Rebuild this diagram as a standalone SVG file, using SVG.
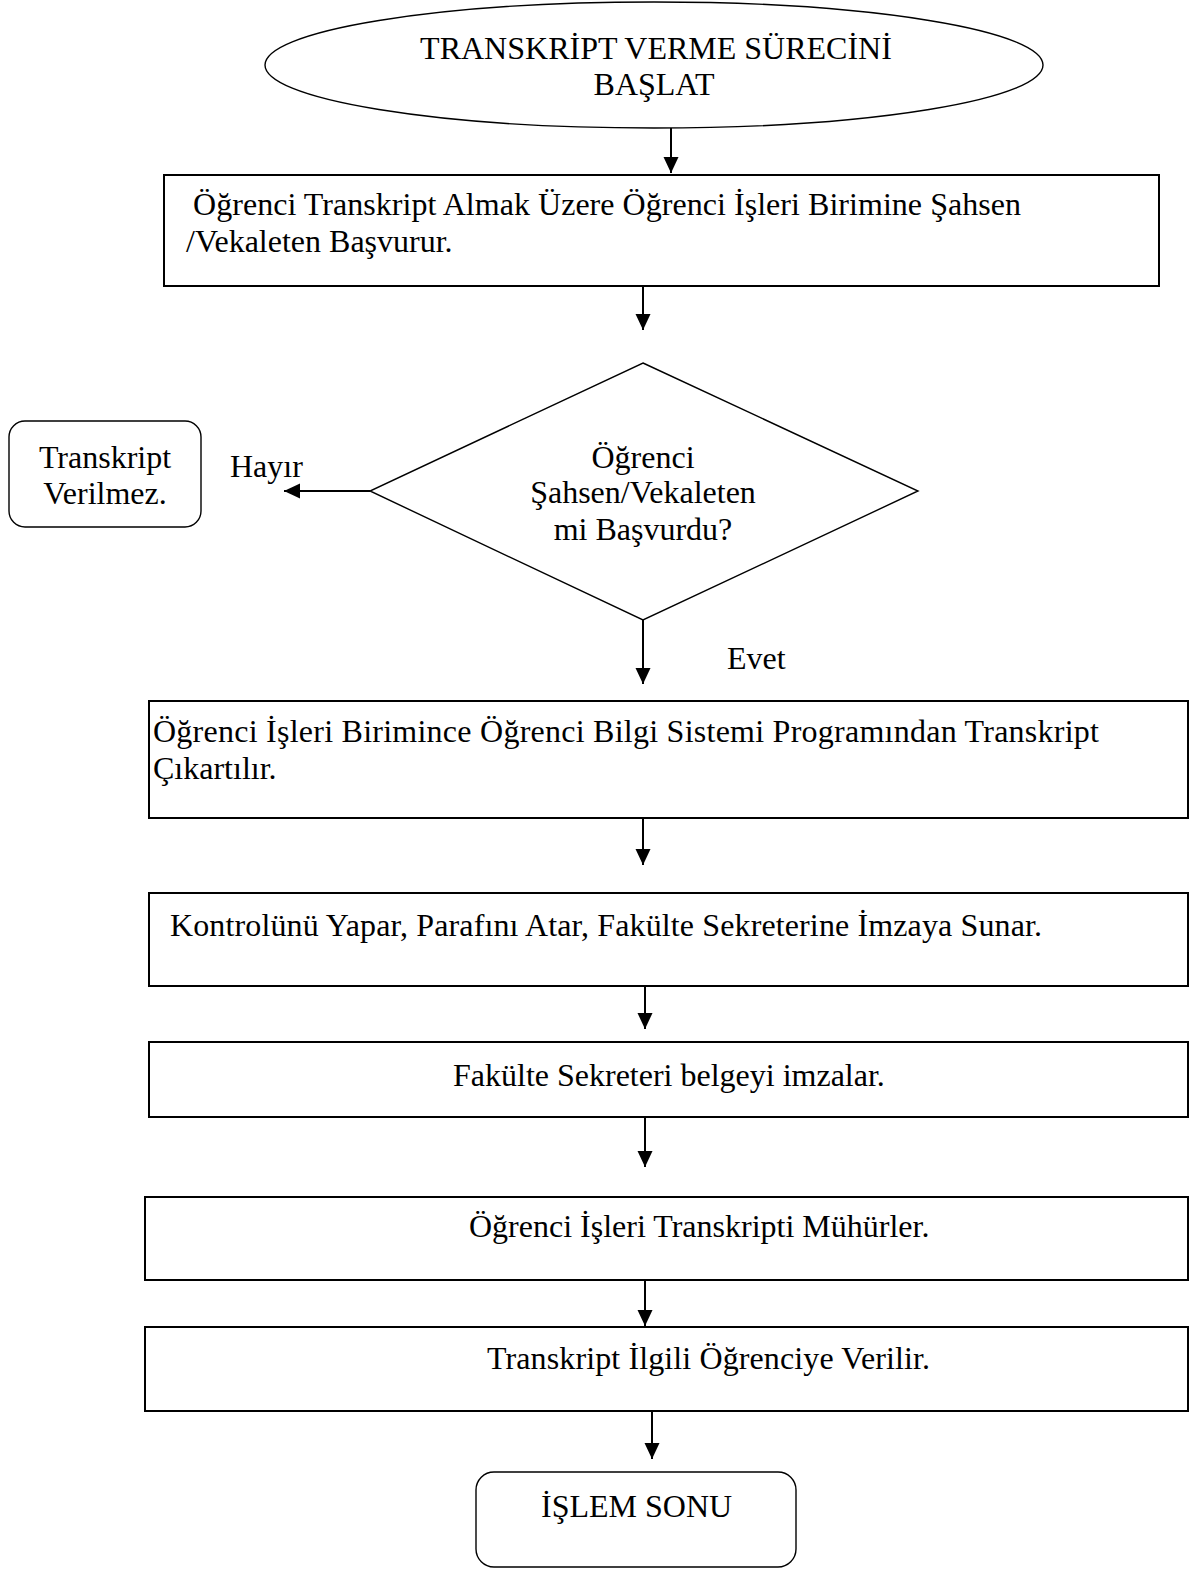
<svg xmlns="http://www.w3.org/2000/svg" width="1194" height="1569" viewBox="0 0 1194 1569">
  <style>
    .t { font-family: "Liberation Serif", "Times New Roman", serif; font-size: 32px; fill: #000; }
    .c { text-anchor: middle; }
    .box { fill: #fff; stroke: #000; stroke-width: 2; }
    .thin { fill: #fff; stroke: #000; stroke-width: 1.4; }
    .edge { stroke: #000; stroke-width: 2; fill: none; marker-end: url(#head); }
  </style>
  <defs>
    <marker id="head" markerUnits="userSpaceOnUse" markerWidth="17" markerHeight="16" refX="16" refY="7.5" orient="auto">
      <path d="M0,0 L16,7.5 L0,15 Z" fill="#000"/>
    </marker>
  </defs>
  <rect width="1194" height="1569" fill="#fff"/>

  <!-- flow connectors -->
  <g id="connectors">
    <line class="edge" x1="671" y1="128" x2="671" y2="173"/>
    <line class="edge" x1="643" y1="287" x2="643" y2="330"/>
    <line class="edge" x1="370" y1="491" x2="284" y2="491"/>
    <line class="edge" x1="643" y1="620" x2="643" y2="684"/>
    <line class="edge" x1="643" y1="819" x2="643" y2="865"/>
    <line class="edge" x1="645" y1="986" x2="645" y2="1029"/>
    <line class="edge" x1="645" y1="1117" x2="645" y2="1167"/>
    <line class="edge" x1="645" y1="1280" x2="645" y2="1326"/>
    <line class="edge" x1="652" y1="1411" x2="652" y2="1459"/>
    <text class="t" x="230" y="477">Hayır</text>
    <text class="t" x="727" y="669">Evet</text>
  </g>

  <g id="start">
    <ellipse class="thin" cx="654" cy="65" rx="389" ry="63"/>
    <text class="t c" x="656" y="59">TRANSKRİPT VERME SÜRECİNİ</text>
    <text class="t c" x="654" y="95">BAŞLAT</text>
  </g>

  <g id="apply">
    <rect class="box" x="164" y="175" width="995" height="111"/>
    <text class="t" x="193" y="215" textLength="828">Öğrenci Transkript Almak Üzere Öğrenci İşleri Birimine Şahsen</text>
    <text class="t" x="186" y="252">/Vekaleten Başvurur.</text>
  </g>

  <g id="decision">
    <polygon class="thin" points="643,363 918,491 643,620 370,491"/>
    <text class="t c" x="643" y="468">Öğrenci</text>
    <text class="t c" x="643" y="503">Şahsen/Vekaleten</text>
    <text class="t c" x="643" y="540">mi Başvurdu?</text>
  </g>

  <g id="rejected">
    <rect class="thin" x="9" y="421" width="192" height="106" rx="16" ry="16"/>
    <text class="t c" x="105" y="468">Transkript</text>
    <text class="t c" x="105" y="504">Verilmez.</text>
  </g>

  <g id="extract">
    <rect class="box" x="149" y="701" width="1039" height="117"/>
    <text class="t" x="153" y="742" textLength="946">Öğrenci İşleri Birimince Öğrenci Bilgi Sistemi Programından Transkript</text>
    <text class="t" x="153" y="779">Çıkartılır.</text>
  </g>

  <g id="check">
    <rect class="box" x="149" y="893" width="1039" height="93"/>
    <text class="t" x="170" y="936" textLength="872">Kontrolünü Yapar, Parafını Atar, Fakülte Sekreterine İmzaya Sunar.</text>
  </g>

  <g id="sign">
    <rect class="box" x="149" y="1042" width="1039" height="75"/>
    <text class="t" x="453" y="1086">Fakülte Sekreteri belgeyi imzalar.</text>
  </g>

  <g id="seal">
    <rect class="box" x="145" y="1197" width="1043" height="83"/>
    <text class="t" x="469" y="1237">Öğrenci İşleri Transkripti Mühürler.</text>
  </g>

  <g id="deliver">
    <rect class="box" x="145" y="1327" width="1043" height="84"/>
    <text class="t" x="487" y="1369" textLength="443">Transkript İlgili Öğrenciye Verilir.</text>
  </g>

  <g id="end">
    <rect class="thin" x="476" y="1472" width="320" height="95" rx="18" ry="18"/>
    <text class="t" x="541" y="1517">İŞLEM SONU</text>
  </g>
</svg>
